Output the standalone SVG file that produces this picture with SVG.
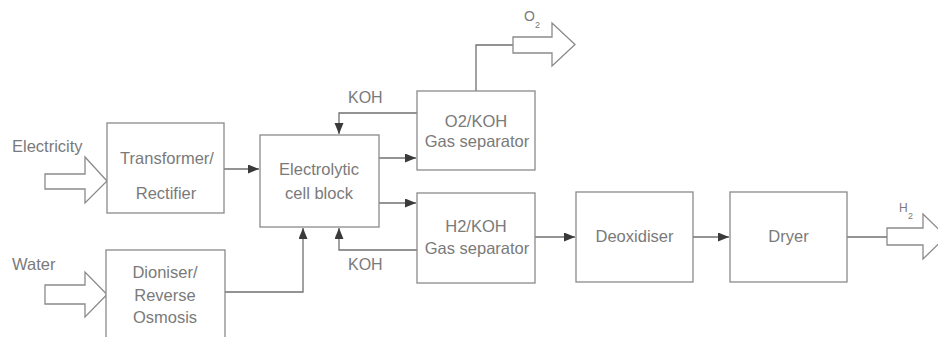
<svg xmlns="http://www.w3.org/2000/svg" width="938" height="337" viewBox="0 0 938 337">
  <style>
    .box{fill:#fff;stroke:#8a8a8a;stroke-width:1.3}
    .lbl{font-family:"Liberation Sans",Arial,sans-serif;font-size:16.5px;fill:#7a7a7a}
    .c{text-anchor:middle}
    .con{fill:none;stroke:#707070;stroke-width:1.3}
    .big{fill:#fff;stroke:#8a8a8a;stroke-width:1.3;stroke-linejoin:miter}
  </style>
  <defs>
    <marker id="ah" markerUnits="userSpaceOnUse" markerWidth="12" markerHeight="10" refX="11" refY="4.5" orient="auto">
      <path d="M0,0 L11,4.5 L0,9 z" fill="#3a3a3a"/>
    </marker>
  </defs>
  <rect width="938" height="337" fill="#fff"/>

  <g id="connectors">
    <path class="con" d="M224,169 H259" marker-end="url(#ah)"/>
    <path class="con" d="M225,292 H303 V228" marker-end="url(#ah)"/>
    <path class="con" d="M417,113 H339 V134" marker-end="url(#ah)"/>
    <path class="con" d="M417,250 H339 V228" marker-end="url(#ah)"/>
    <path class="con" d="M379,158 H416" marker-end="url(#ah)"/>
    <path class="con" d="M379,203 H416" marker-end="url(#ah)"/>
    <path class="con" d="M476,91 V45 H513"/>
    <path class="con" d="M535,237 H575" marker-end="url(#ah)"/>
    <path class="con" d="M693,237 H729" marker-end="url(#ah)"/>
    <path class="con" d="M847,237 H887"/>
    <text class="lbl" x="348" y="103" style="font-size:16px">KOH</text>
    <text class="lbl" x="348" y="270" style="font-size:16px">KOH</text>
  </g>

  <g id="electricity">
    <polygon class="big" points="45,174 85,174 85,157 107,181 85,203 85,189 45,189"/>
    <text class="lbl" x="12" y="152">Electricity</text>
  </g>
  <g id="water">
    <polygon class="big" points="45,285 85,285 85,272 107,294.5 85,317 85,304 45,304"/>
    <text class="lbl" x="12" y="270">Water</text>
  </g>
  <g id="o2-out">
    <polygon class="big" points="513,37 552,37 552,23 575,44.5 552,66 552,53 513,53"/>
    <text class="lbl" x="524" y="21" style="font-size:14px">O</text>
    <text class="lbl" x="535" y="28" style="font-size:9px">2</text>
  </g>
  <g id="h2-out">
    <polygon class="big" points="887,228 923,228 923,214 946,236.5 923,259 923,245 887,245"/>
    <text class="lbl" x="899" y="212" style="font-size:12px">H</text>
    <text class="lbl" x="908" y="219" style="font-size:9px">2</text>
  </g>

  <g id="transformer">
    <rect class="box" x="107" y="123" width="117" height="90"/>
    <text class="lbl c" x="167" y="164">Transformer/</text>
    <text class="lbl c" x="166" y="199">Rectifier</text>
  </g>
  <g id="dioniser">
    <rect class="box" x="106" y="250" width="119" height="100"/>
    <text class="lbl c" x="165" y="278">Dioniser/</text>
    <text class="lbl c" x="165" y="301">Reverse</text>
    <text class="lbl c" x="165" y="323">Osmosis</text>
  </g>
  <g id="electrolytic">
    <rect class="box" x="260" y="135" width="119" height="92"/>
    <text class="lbl c" x="319" y="175">Electrolytic</text>
    <text class="lbl c" x="319" y="199">cell block</text>
  </g>
  <g id="o2-separator">
    <rect class="box" x="417" y="91" width="118" height="79"/>
    <text class="lbl c" x="476" y="127">O2/KOH</text>
    <text class="lbl c" x="477" y="147">Gas separator</text>
  </g>
  <g id="h2-separator">
    <rect class="box" x="417" y="193" width="118" height="90"/>
    <text class="lbl c" x="476" y="232">H2/KOH</text>
    <text class="lbl c" x="477" y="254">Gas separator</text>
  </g>
  <g id="deoxidiser">
    <rect class="box" x="576" y="192" width="117" height="90"/>
    <text class="lbl c" x="634.5" y="242">Deoxidiser</text>
  </g>
  <g id="dryer">
    <rect class="box" x="730" y="192" width="117" height="90"/>
    <text class="lbl c" x="788.5" y="242">Dryer</text>
  </g>
</svg>
